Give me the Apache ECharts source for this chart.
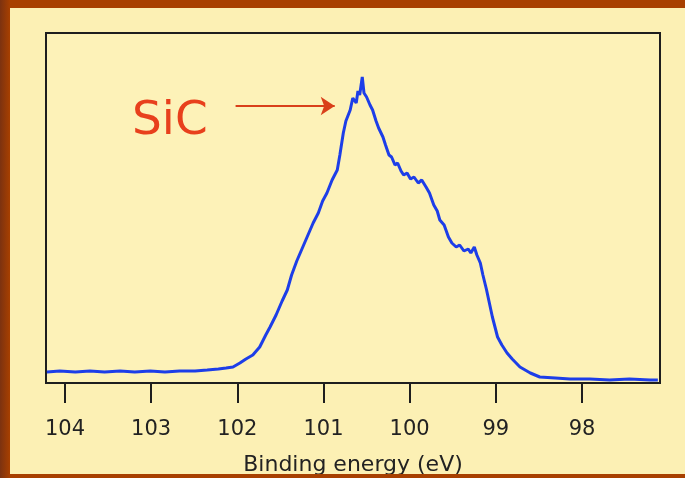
<!DOCTYPE html>
<html lang="en">

<head>
    <meta charset="UTF-8">
    <title>SiC XPS</title>
    <script src="https://cdn.jsdelivr.net/npm/echarts@6/dist/echarts.min.js"></script>
    <style>
        body,
        html {
            margin: 0;
            padding: 0;
            height: 100%;
            background: linear-gradient(to right, #7c3210 0px, #a84000 10px);
            overflow: hidden;
        }

        #main {
            position: absolute;
            left: 10px;
            top: 8px;
            width: 675px;
            height: 466px;
            background: #fcf0b4;
        }
    </style>
</head>

<body>
    <div id="main"></div>
    <script>
        // binding energy (eV) and intensity (arb. units)
        var energy = [104.21, 104.06, 103.88, 103.71, 103.54, 103.36, 103.19, 103.01, 102.84, 102.67,
            102.49, 102.35, 102.22, 102.13, 102.05, 101.97, 101.90, 101.82, 101.74, 101.67,
            101.62, 101.55, 101.48, 101.42, 101.37, 101.31, 101.24, 101.18, 101.12, 101.06,
            101.01, 100.96, 100.90, 100.84, 100.81, 100.77, 100.74, 100.69, 100.66, 100.62,
            100.60, 100.58, 100.55, 100.53, 100.50, 100.46, 100.43, 100.39, 100.36, 100.31,
            100.28, 100.24, 100.21, 100.17, 100.14, 100.10, 100.07, 100.03, 99.99, 99.95,
            99.90, 99.86, 99.81, 99.77, 99.72, 99.68, 99.65, 99.60, 99.55, 99.51,
            99.46, 99.42, 99.37, 99.32, 99.29, 99.25, 99.22, 99.18, 99.15, 99.11,
            99.08, 99.04, 99.01, 98.98, 98.93, 98.87, 98.81, 98.72, 98.60, 98.49,
            98.31, 98.14, 97.91, 97.68, 97.45, 97.21, 97.12];
        var counts = [11, 12, 11, 12, 11, 12, 11, 12, 11, 12,
            12, 13, 14, 15, 16, 20, 24, 28, 36, 48,
            56, 68, 82, 93, 108, 122, 136, 148, 160, 170,
            182, 190, 203, 213, 228, 250, 262, 273, 285, 280,
            292, 288, 306, 290, 286, 278, 273, 262, 255, 246,
            238, 228, 226, 218, 220, 212, 208, 210, 204, 206,
            200, 203, 196, 190, 178, 172, 163, 158, 146, 140,
            136, 138, 132, 134, 130, 136, 128, 120, 108, 94,
            82, 66, 56, 46, 38, 30, 24, 16, 10, 6,
            5, 4, 4, 3, 4, 3, 3];
        var tickValues = [98, 99, 100, 101, 102, 103, 104];
        var arrowFrom = [102.02, 277];
        var arrowTo = [100.87, 277];

        var points = [];
        for (var i = 0; i < energy.length; i++) {
            points.push([energy[i], counts[i]]);
        }

        var myChart = echarts.init(document.getElementById('main'));
        var option = {
            animation: false,
            grid: {
                left: 36,
                top: 25,
                right: 25,
                bottom: 91,
                outerBoundsMode: 'none',
                containLabel: false,
                show: true,
                borderColor: '#1e1e1e',
                borderWidth: 2,
                backgroundColor: '#fdf2b8'
            },
            xAxis: {
                type: 'value',
                inverse: true,
                min: 97.095,
                max: 104.22,
                splitLine: { show: false },
                axisLine: { show: true, lineStyle: { color: '#1e1e1e', width: 2 } },
                axisTick: {
                    show: true,
                    length: 20,
                    customValues: tickValues,
                    lineStyle: { color: '#1e1e1e', width: 2 }
                },
                axisLabel: {
                    customValues: tickValues,
                    margin: 36,
                    color: '#222',
                    fontSize: 21,
                    fontFamily: 'DejaVu Sans'
                },
                name: 'Binding energy (eV)',
                nameLocation: 'middle',
                nameGap: 71,
                nameTextStyle: {
                    color: '#222',
                    fontSize: 22,
                    fontFamily: 'DejaVu Sans'
                }
            },
            yAxis: {
                type: 'value',
                min: 0,
                max: 350,
                show: false
            },
            graphic: [{
                type: 'text',
                left: 122,
                top: 90,
                style: {
                    text: 'SiC',
                    fill: '#e8401c',
                    font: '47px "DejaVu Sans"'
                }
            }],
            series: [{
                type: 'line',
                data: points,
                symbol: 'none',
                lineStyle: { color: '#1d3ee8', width: 3 },
                markLine: {
                    silent: true,
                    symbol: ['none', 'arrow'],
                    symbolSize: 14,
                    label: { show: false },
                    lineStyle: { color: '#d9401a', width: 2, type: 'solid' },
                    data: [[{ coord: arrowFrom }, { coord: arrowTo }]]
                }
            }]
        };
        myChart.setOption(option);
    </script>
</body>

</html>
